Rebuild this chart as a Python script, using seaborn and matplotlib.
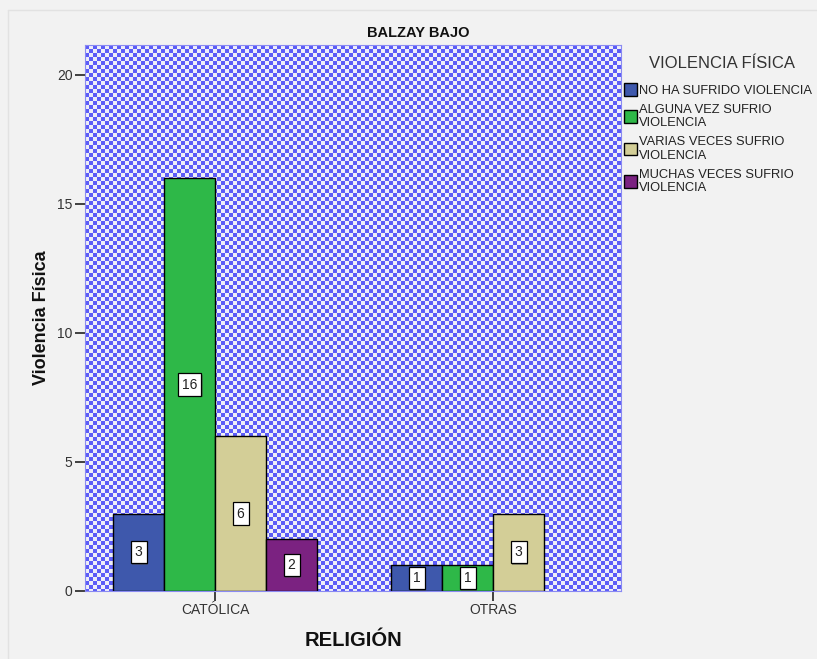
import numpy as np
import pandas as pd
import matplotlib
matplotlib.use('Agg')
import matplotlib.pyplot as plt
import matplotlib.patheffects as pe
import seaborn as sns

# Data
religion = ['CATÓLICA', 'CATÓLICA', 'CATÓLICA', 'CATÓLICA', 'OTRAS', 'OTRAS', 'OTRAS']
violencia = ['NO HA SUFRIDO VIOLENCIA', 'ALGUNA VEZ SUFRIO\nVIOLENCIA',
             'VARIAS VECES SUFRIO\nVIOLENCIA', 'MUCHAS VECES SUFRIO\nVIOLENCIA',
             'NO HA SUFRIDO VIOLENCIA', 'ALGUNA VEZ SUFRIO\nVIOLENCIA',
             'VARIAS VECES SUFRIO\nVIOLENCIA']
recuento = [3, 16, 6, 2, 1, 1, 3]

niveles = ['NO HA SUFRIDO VIOLENCIA', 'ALGUNA VEZ SUFRIO\nVIOLENCIA',
           'VARIAS VECES SUFRIO\nVIOLENCIA', 'MUCHAS VECES SUFRIO\nVIOLENCIA']
colores = ['#3e58ac', '#2eb848', '#d3ce97', '#7b2281']

df = pd.DataFrame({'Religion': religion, 'Violencia': violencia, 'Recuento': recuento})

sns.set_style('white')
plt.rcParams['font.family'] = ['Liberation Sans', 'DejaVu Sans']

fig = plt.figure(figsize=(8.17, 6.59), dpi=100, facecolor='#f2f2f2')
ax = fig.add_axes([85 / 817, 68 / 659, 536 / 817, 546 / 659])

# faint frame along the left and top edges of the picture
fig.add_artist(plt.Line2D([8 / 817, 8 / 817], [0, 1 - 10 / 659], color='#e2e2e2', lw=1))
fig.add_artist(plt.Line2D([8 / 817, 1], [1 - 10 / 659, 1 - 10 / 659], color='#e2e2e2', lw=1))

# checkered background like the SPSS fill
h, w, c = 546, 536, 4
yy, xx = np.mgrid[0:h, 0:w]
mask = ((yy // c) + (xx // c)) % 2 == 0
img = np.zeros((h, w, 3))
img[mask] = np.array([92, 92, 248]) / 255
img[~mask] = np.array([238, 238, 248]) / 255
ax.imshow(img, extent=[0, 1, 0, 1], transform=ax.transAxes, aspect='auto',
          interpolation='none', zorder=0)

sns.barplot(data=df, x='Religion', y='Recuento', hue='Violencia',
            order=['CATÓLICA', 'OTRAS'], hue_order=niveles, palette=colores,
            width=0.734, errorbar=None, edgecolor='black', linewidth=1,
            saturation=1, ax=ax, zorder=2)

for cont in ax.containers:
    labels = ax.bar_label(cont, label_type='center', fontsize=10, color='#222222',
                          bbox=dict(boxstyle='square,pad=0.3', fc='white',
                                    ec='black', lw=0.9))
    for t in labels:
        t.get_bbox_patch().set_path_effects(
            [pe.SimplePatchShadow(offset=(1.2, -1.2), alpha=0.5), pe.Normal()])

ax.set_xlim(-0.468, 1.46)
ax.set_ylim(0, 21.16)
ax.set_yticks([0, 5, 10, 15, 20])
ax.tick_params(axis='both', which='both', length=7, width=1.2, color='#222222',
               labelsize=10, labelcolor='#333333', left=True, bottom=True, pad=2)
for s in ax.spines.values():
    s.set_color('#8a8af2')
    s.set_linewidth(0.8)

fig.text(418 / 817, 1 - 33 / 659, 'BALZAY BAJO', fontsize=10.5, fontweight='bold',
         ha='center', va='center', color='#111111')
ax.set_xlabel('RELIGIÓN', fontsize=14.5, fontweight='bold', labelpad=10, color='#111111')
ax.set_ylabel('Violencia Física', fontsize=13, fontweight='bold', labelpad=5, color='#111111')

# legend title drawn separately so the gap under it matches
fig.text(722 / 817, 1 - 64 / 659, 'VIOLENCIA FÍSICA', fontsize=12,
         ha='center', va='center', color='#333333')
ax.legend_.remove()
handles = [plt.Rectangle((0, 0), 1, 1, fc=col, ec='black', lw=1) for col in colores]
leg = fig.legend(handles, niveles, loc='upper left',
                 bbox_to_anchor=(619 / 817, 1 - 78 / 659), frameon=False,
                 fontsize=9.3, handlelength=1.0, handleheight=1.1,
                 handletextpad=0.15, labelspacing=0.55, borderaxespad=0)
for t in leg.get_texts():
    t.set_linespacing(1.15)
    t.set_color('#222222')

fig.savefig('out.png', dpi=100, facecolor=fig.get_facecolor())
